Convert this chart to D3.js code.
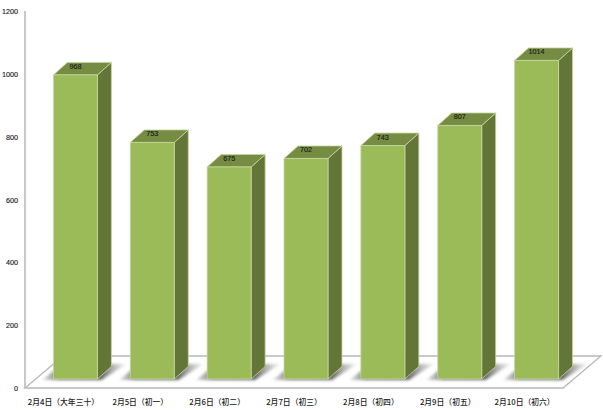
<!DOCTYPE html>
<html lang="en">
    <head>
        <meta charset="utf-8">
        <style>
        body { margin: 0; background: #fff; }
        svg { display: block; }
        text { fill: #1c1c1c; }
        </style>
        <script src="https://d3js.org/d3.v7.min.js"></script>
    </head>
    <body>
    <script>
    const categories = ["2月4日（大年三十）", "2月5日（初一）", "2月6日（初二）", "2月7日（初三）", "2月8日（初四）", "2月9日（初五）", "2月10日（初六）"];
    const values = [968, 753, 675, 702, 743, 807, 1014];
    const yTicks = [0, 200, 400, 600, 800, 1000, 1200];

    var width = 603,
        height = 410;

    // fake 3d: depth of the floor and of each bar, in px
    const floorDx = 38, floorDy = 32;
    const barDx = 14, barDy = 12.5;
    const barW = 44;
    const lift = 9; // bars stand a bit behind the front edge of the floor

    var x = d3.scaleBand().domain(categories).range([25, 563]);
    var y = d3.scaleLinear().domain([0, 1200]).range([388, 11]);

    var svg = d3.select("body").append("svg")
        .attr("width", width)
        .attr("height", height);

    var defs = svg.append("defs");
    defs.append("filter").attr("id", "blur")
        .attr("x", "-30%").attr("y", "-60%").attr("width", "160%").attr("height", "220%")
        .append("feGaussianBlur").attr("stdDeviation", 1.8);

    var grad = defs.append("linearGradient").attr("id", "shadow");
    grad.append("stop").attr("offset", "0%").attr("stop-color", "#999").attr("stop-opacity", 0.35);
    grad.append("stop").attr("offset", "20%").attr("stop-color", "#777").attr("stop-opacity", 1);
    grad.append("stop").attr("offset", "70%").attr("stop-color", "#666").attr("stop-opacity", 1);
    grad.append("stop").attr("offset", "100%").attr("stop-color", "#aaa").attr("stop-opacity", 0.2);

    // floor
    var x0 = x.range()[0], x1 = x.range()[1], y0 = y(0);
    svg.append("path")
        .attr("d", d3.line()([[x0, y0], [x1, y0], [x1 + floorDx, y0 - floorDy], [x0 + floorDx, y0 - floorDy]]) + "Z")
        .attr("fill", "#fff")
        .attr("stroke", "#b8b8b8")
        .attr("stroke-width", 1.3);

    // value axis
    svg.append("line")
        .attr("x1", x0).attr("x2", x0)
        .attr("y1", y(1200)).attr("y2", y0)
        .attr("stroke", "#bcbcbc")
        .attr("stroke-width", 1.6);

    svg.selectAll(".ytick")
        .data(yTicks)
        .enter().append("text")
        .attr("class", "ytick")
        .attr("x", 18)
        .attr("y", d => y(d) + 3)
        .attr("text-anchor", "end")
        .style("font", "7.2px 'Liberation Sans'")
        .style("stroke", "#1c1c1c")
        .style("stroke-width", 0.15)
        .text(d => d);

    var bars = svg.selectAll(".bar")
        .data(categories.map((c, i) => ({ name: c, value: values[i] })))
        .enter().append("g")
        .attr("class", "bar");

    const barLeft = d => x(d.name) + x.bandwidth() / 2 - 10;
    const barBase = () => y(0) - lift;
    const barTop = d => y(d.value) - lift;

    // shadow on the floor
    bars.append("path")
        .attr("d", d => d3.line()([
            [barLeft(d) - 11, barBase() + 1],
            [barLeft(d) + barW + 4, barBase() + 1],
            [barLeft(d) + barW + 29, barBase() - 15],
            [barLeft(d) + barW, barBase() - 15],
            [barLeft(d), barBase() - 8]
        ]) + "Z")
        .attr("fill", "url(#shadow)")
        .attr("filter", "url(#blur)");

    const edge = sel => sel
        .attr("stroke", "#c6d6a2")
        .attr("stroke-width", 0.8)
        .attr("stroke-linejoin", "round");

    // side
    bars.append("path")
        .attr("d", d => d3.line()([
            [barLeft(d) + barW, barTop(d)],
            [barLeft(d) + barW + barDx, barTop(d) - barDy],
            [barLeft(d) + barW + barDx, barBase() - barDy],
            [barLeft(d) + barW, barBase()]
        ]) + "Z")
        .attr("fill", "#647538")
        .call(edge);

    // top
    bars.append("path")
        .attr("d", d => d3.line()([
            [barLeft(d), barTop(d)],
            [barLeft(d) + barDx, barTop(d) - barDy],
            [barLeft(d) + barW + barDx, barTop(d) - barDy],
            [barLeft(d) + barW, barTop(d)]
        ]) + "Z")
        .attr("fill", "#758c42")
        .call(edge);

    // front
    bars.append("rect")
        .attr("x", barLeft)
        .attr("y", barTop)
        .attr("width", barW)
        .attr("height", d => barBase() - barTop(d))
        .attr("fill", "#9bbb59")
        .call(edge);

    bars.append("text")
        .attr("x", d => barLeft(d) + barW / 2)
        .attr("y", d => barTop(d) - 6)
        .attr("text-anchor", "middle")
        .style("font", "7.2px 'Liberation Sans'")
        .style("stroke", "#1c1c1c")
        .style("stroke-width", 0.15)
        .text(d => d.value);

    svg.selectAll(".xlabel")
        .data(categories)
        .enter().append("text")
        .attr("class", "xlabel")
        .attr("x", d => x(d) + x.bandwidth() / 2)
        .attr("y", 405)
        .attr("text-anchor", "middle")
        .style("font", "500 7.8px 'Noto Sans CJK SC'")
        .text(d => d);
    </script>
    </body>
</html>
